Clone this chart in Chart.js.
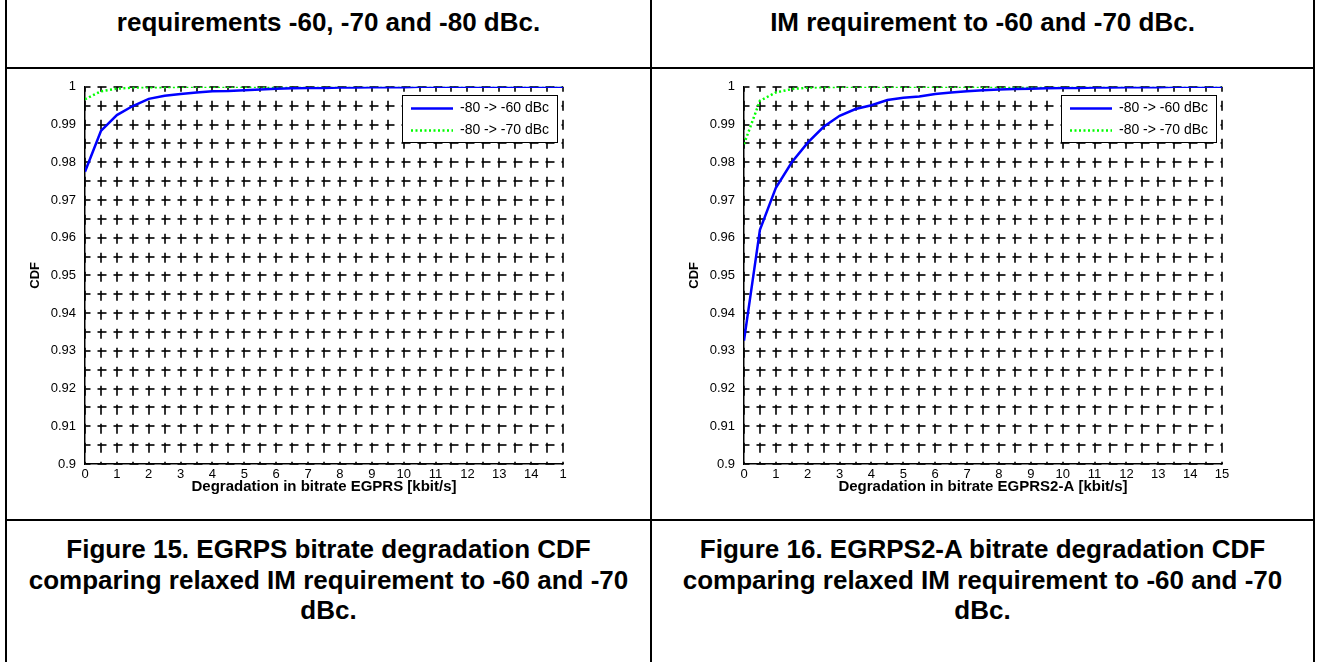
<!DOCTYPE html>
<html>
<head>
<meta charset="utf-8">
<script src="https://cdn.jsdelivr.net/npm/chart.js@4/dist/chart.umd.min.js"></script>
<style>
html,body{margin:0;padding:0;background:#fff;width:1319px;height:662px;overflow:hidden;font-family:"Liberation Sans",Arial,sans-serif;}
.rule{position:absolute;background:#000;}
.cap{position:absolute;text-align:center;font-weight:bold;font-size:26px;line-height:30.5px;color:#000;white-space:nowrap;}
canvas{position:absolute;}
</style>
</head>
<body>
<div class="rule" style="left:5px;top:0;width:2px;height:662px"></div>
<div class="rule" style="left:650px;top:0;width:2px;height:662px"></div>
<div class="rule" style="left:1313px;top:0;width:2px;height:662px"></div>
<div class="rule" style="left:5px;top:67px;width:1310px;height:2px"></div>
<div class="rule" style="left:5px;top:519px;width:1310px;height:2px"></div>

<div class="cap" style="left:7px;width:643px;top:7px">requirements -60, -70 and -80 dBc.</div>
<div class="cap" style="left:652px;width:661px;top:7px">IM requirement to -60 and -70 dBc.</div>
<div class="cap" style="left:7px;width:643px;top:534px">Figure 15. EGRPS bitrate degradation CDF<br>comparing relaxed IM requirement to -60 and -70<br>dBc.</div>
<div class="cap" style="left:652px;width:661px;top:534px">Figure 16. EGRPS2-A bitrate degradation CDF<br>comparing relaxed IM requirement to -60 and -70<br>dBc.</div>

<canvas id="c1" width="572" height="434" style="left:8px;top:70px;width:572px;height:434px"></canvas>
<canvas id="c2" width="572" height="434" style="left:667px;top:70px;width:572px;height:434px"></canvas>

<script>
// ---- data ----
const xValues = [0,0.5,1,1.5,2,2.5,3,3.5,4,4.5,5,5.5,6,6.5,7,7.5,8,8.5,9,9.5,10,10.5,11,11.5,12,12.5,13,13.5,14,14.5,15];

const egprsTo60 = [0.9775,0.9883,0.9925,0.9949,0.9968,0.9976,0.9981,0.9985,0.9988,0.9989,0.9991,0.9993,0.9995,0.9996,0.9997,0.9997,0.9998,0.9998,0.9999,0.9999,0.9999,1,1,1,1,1,1,1,1,1,1];
const egprsTo70 = [0.9967,0.9988,0.9995,0.9998,0.9999,0.9999,1,1,1,1,1,1,1,1,1,1,1,1,1,1,1,1,1,1,1,1,1,1,1,1,1];

const egprs2aTo60 = [0.9327,0.9621,0.9732,0.9800,0.9852,0.9894,0.9923,0.9941,0.9951,0.9965,0.9971,0.9974,0.9981,0.9985,0.9988,0.9991,0.9993,0.9994,0.9995,0.9996,0.9997,0.9997,0.9998,0.9998,0.9999,0.9999,0.9999,1,1,1,1];
const egprs2aTo70 = [0.9848,0.9963,0.9985,0.9994,0.9998,0.9999,1,1,1,1,1,1,1,1,1,1,1,1,1,1,1,1,1,1,1,1,1,1,1,1,1];

const seriesLabels = ['-80 -> -60 dBc', '-80 -> -70 dBc'];
const xTickLabelsLeft  = ['0','1','2','3','4','5','6','7','8','9','10','11','12','13','14','1'];
const xTickLabelsRight = ['0','1','2','3','4','5','6','7','8','9','10','11','12','13','14','15'];
const yTickLabels = ['0.9','0.91','0.92','0.93','0.94','0.95','0.96','0.97','0.98','0.99','1'];
const xTitleLeft = 'Degradation in bitrate EGPRS [kbit/s]';
const xTitleRight = 'Degradation in bitrate EGPRS2-A [kbit/s]';
const yTitle = 'CDF';

const FONT = '"Liberation Sans", Arial, sans-serif';

// ---- legend with box, drawn inside plot area ----
const boxLegend = {
  id: 'boxLegend',
  afterDatasetsDraw(chart) {
    const {ctx, chartArea} = chart;
    const w = 155, h = 47;
    const x = Math.round(chartArea.right - 6 - w), y = Math.round(chartArea.top + 8);
    ctx.save();
    ctx.fillStyle = '#fff';
    ctx.fillRect(x, y, w, h);
    ctx.strokeStyle = '#000';
    ctx.lineWidth = 1;
    ctx.setLineDash([]);
    ctx.strokeRect(x + 0.5, y + 0.5, w, h);
    chart.data.datasets.forEach((ds, i) => {
      const cy = y + 13.5 + i * 22;
      ctx.strokeStyle = ds.borderColor;
      ctx.lineWidth = ds.borderWidth;
      ctx.setLineDash(ds.borderDash || []);
      ctx.beginPath();
      ctx.moveTo(x + 9, cy);
      ctx.lineTo(x + 51, cy);
      ctx.stroke();
      ctx.setLineDash([]);
      ctx.fillStyle = '#000';
      ctx.font = '14px ' + FONT;
      ctx.textBaseline = 'middle';
      ctx.textAlign = 'left';
      ctx.fillText(ds.label, x + 58, cy);
    });
    ctx.restore();
  }
};

function makeChart(id, s60, s70, xLabels, xTitle) {
  const pts = arr => xValues.map((x, i) => ({x: x, y: arr[i]}));
  return new Chart(document.getElementById(id), {
    type: 'line',
    data: {
      datasets: [
        {label: seriesLabels[0], data: pts(s60), borderColor: '#0000ff', borderWidth: 2.5, pointRadius: 0, fill: false, tension: 0},
        {label: seriesLabels[1], data: pts(s70), borderColor: '#00ff00', borderWidth: 2.5, borderDash: [2, 2.5], pointRadius: 0, fill: false, tension: 0}
      ]
    },
    options: {
      responsive: false,
      animation: false,
      devicePixelRatio: 1,
      layout: {padding: {left: 17, top: 14, right: 17, bottom: 0}},
      plugins: {legend: {display: false}, tooltip: {enabled: false}},
      scales: {
        x: {
          type: 'linear', min: 0, max: 15,
          afterFit(axis) { axis.height = 40; },
          ticks: {
            stepSize: 0.5, autoSkip: false, maxRotation: 0, padding: 3,
            color: '#000', font: {family: FONT, size: 13},
            callback: (v) => { const k = Math.round(v * 2); return (k % 2) ? '' : xLabels[k / 2]; }
          },
          grid: {color: 'rgba(0,0,0,0.8)', lineWidth: 2, drawTicks: false},
          border: {display: true, color: '#000', width: 1.5, dash: [10, 9], dashOffset: 5},
          title: {display: true, text: xTitle, color: '#000', padding: {top: 0, bottom: 8},
                  font: {family: FONT, size: 15, weight: 'bold'}}
        },
        y: {
          type: 'linear', min: 0.9, max: 1,
          afterFit(axis) { axis.width = 60; },
          ticks: {
            stepSize: 0.005, autoSkip: false, padding: 9,
            color: '#000', font: {family: FONT, size: 13},
            callback: (v) => { const k = Math.round((v - 0.9) / 0.005); return (k % 2) ? '' : yTickLabels[k / 2]; }
          },
          grid: {color: 'rgba(0,0,0,0.8)', lineWidth: 2, drawTicks: false},
          border: {display: true, color: '#000', width: 1.5, dash: [9, 7], dashOffset: 4},
          title: {display: true, text: yTitle, color: '#000', padding: {top: 3, bottom: 0},
                  font: {family: FONT, size: 13, weight: 'bold'}}
        }
      }
    },
    plugins: [boxLegend]
  });
}

makeChart('c1', egprsTo60, egprsTo70, xTickLabelsLeft, xTitleLeft);
makeChart('c2', egprs2aTo60, egprs2aTo70, xTickLabelsRight, xTitleRight);
</script>
</body>
</html>
